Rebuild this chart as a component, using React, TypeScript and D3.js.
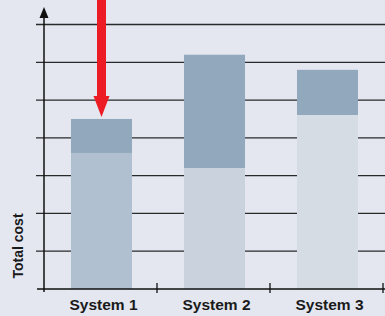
import React from "react";
import * as d3 from "d3";

// chart data (units = grid steps)
const systems = ["System 1", "System 2", "System 3"];
const baseCost = [3.6, 3.2, 4.6];
const extraCost = [0.9, 3.0, 1.2];
const gridValues = [1, 2, 3, 4, 5, 6, 7];
const lowerColors = ["#b1c0d1", "#cad2dd", "#d5dce4"];

const W = 385;
const H = 316;

export default function App() {
  const x = d3.scaleBand<string>().domain(systems).range([44, 383]).padding(0);
  const y = d3.scaleLinear().domain([0, 7]).range([289, 24.5]);
  const bw = x.bandwidth();
  const barW = bw * 0.54;
  const barX = (s: string) => (x(s) as number) + (bw - barW) / 2 + 1;

  // arrow pointing at System 1
  const ax = barX(systems[0]) + barW / 2;
  const tipY = y(baseCost[0] + extraCost[0]) - 2;
  const arrow = [
    [ax - 4.5, 0],
    [ax + 4.5, 0],
    [ax + 4.5, tipY - 21],
    [ax + 8, tipY - 21],
    [ax, tipY],
    [ax - 8, tipY - 21],
    [ax - 4.5, tipY - 21],
  ];

  return (
    <div style={{ position: "fixed", left: 0, top: 0 }}>
      <svg width={W} height={H} style={{ display: "block" }}>
        <rect width={W} height={H} fill="#e4e7f0" />
        {gridValues.map((v) => (
          <line key={v} x1={36} x2={W} y1={y(v)} y2={y(v)} stroke="#2a2a2a" strokeWidth={1.3} />
        ))}
        {systems.map((s, i) => (
          <g key={s}>
            <rect x={barX(s)} y={y(baseCost[i] + extraCost[i])} width={barW}
              height={y(baseCost[i]) - y(baseCost[i] + extraCost[i])} fill="#91a8bd" />
            <rect x={barX(s)} y={y(baseCost[i])} width={barW}
              height={y(0) - y(baseCost[i])} fill={lowerColors[i]} />
          </g>
        ))}
        {/* axes */}
        <line x1={37} x2={W} y1={y(0)} y2={y(0)} stroke="#111" strokeWidth={1.5} />
        <line x1={44} x2={44} y1={292} y2={14} stroke="#111" strokeWidth={1.5} />
        <path d="M44,7 L48.5,18 L39.5,18 Z" fill="#111" />
        {systems.map((s) => (
          <line key={s} x1={(x(s) as number) + bw} x2={(x(s) as number) + bw}
            y1={283} y2={293} stroke="#111" strokeWidth={1.3} />
        ))}
        {systems.map((s) => (
          <text key={s} x={(x(s) as number) + bw / 2 + 3} y={309.5} textAnchor="middle"
            fontFamily="Liberation Sans, Arial, sans-serif" fontWeight="bold" fontSize={15.5} fill="#1a1a1a">
            {s}
          </text>
        ))}
        <text transform="translate(22.5,246) rotate(-90)" textAnchor="middle"
          fontFamily="Liberation Sans, Arial, sans-serif" fontWeight="bold" fontSize={14} fill="#1a1a1a">
          Total cost
        </text>
        <polygon points={arrow.map((p) => p.join(",")).join(" ")} fill="#ed1c24" />
      </svg>
    </div>
  );
}
